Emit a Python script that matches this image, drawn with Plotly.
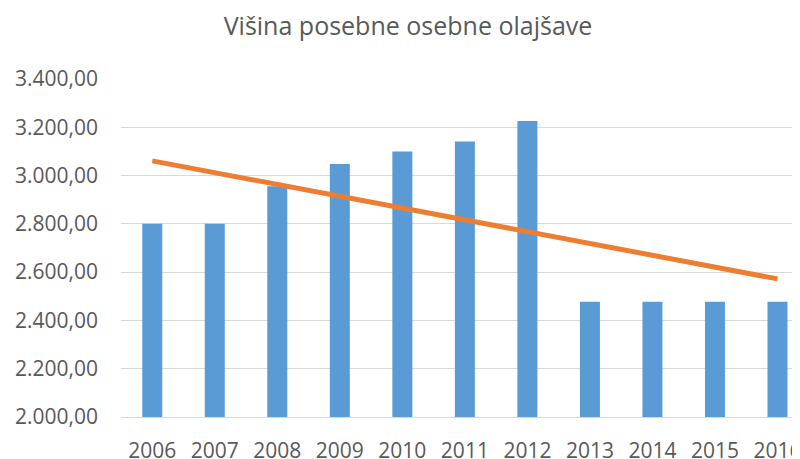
import plotly.graph_objects as go

# data
years = ["2006", "2007", "2008", "2009", "2010", "2011", "2012", "2013", "2014", "2015", "2016"]
olajsava = [2800, 2800, 2956, 3048, 3100, 3141, 3226, 2477, 2477, 2477, 2477]
trend_years = ["2006", "2016"]
trend_values = [3061, 2572]

colors = {
    "bar": "#5B9BD5",
    "trend": "#ED7D31",
    "text": "#595959",
    "grid": "#D9D9D9",
}

fig = go.Figure()
fig.add_trace(go.Bar(x=years, y=olajsava, marker_color=colors["bar"],
                     marker_line_width=0, showlegend=False))
fig.add_trace(go.Scatter(x=trend_years, y=trend_values, mode="lines",
                         line=dict(color=colors["trend"], width=5), showlegend=False))

# the page body adds an 8px offset, so margins are shifted to compensate
fig.update_layout(
    width=800, height=459,
    margin=dict(l=113, r=8, t=71, b=50),
    paper_bgcolor="white", plot_bgcolor="white",
    font=dict(family="Open Sans", color=colors["text"], size=21),
    separators=",.",
    bargap=0.68,
    title=dict(text="Višina posebne osebne olajšave", x=0.5, xanchor="center",
               y=0.961, yanchor="middle", font=dict(size=25, color=colors["text"])),
    xaxis=dict(type="category", range=[-0.5, 10.36], showgrid=False,
               showline=True, linecolor=colors["grid"], linewidth=1,
               ticks="", ticklabelstandoff=15, automargin=False),
    yaxis=dict(range=[2000, 3400], dtick=200, tickformat=",.2f",
               showgrid=True, gridcolor=colors["grid"], gridwidth=1,
               zeroline=False, ticks="", ticklabelstandoff=22, automargin=False),
)

fig.write_html("out.html")
